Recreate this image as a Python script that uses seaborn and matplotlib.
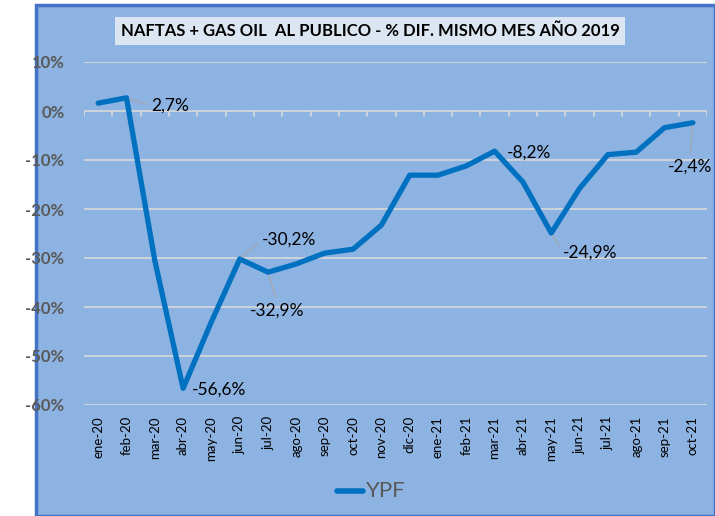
import matplotlib
matplotlib.use("Agg")
import matplotlib.pyplot as plt
from matplotlib.patches import Rectangle
import seaborn as sns
import pandas as pd

months = ["ene-20", "feb-20", "mar-20", "abr-20", "may-20", "jun-20", "jul-20",
          "ago-20", "sep-20", "oct-20", "nov-20", "dic-20", "ene-21", "feb-21",
          "mar-21", "abr-21", "may-21", "jun-21", "jul-21", "ago-21", "sep-21", "oct-21"]
ypf = [1.6, 2.7, -30.5, -56.6, -43.0, -30.2, -32.9, -31.2, -29.0, -28.2, -23.3,
       -13.1, -13.1, -11.2, -8.2, -14.5, -24.9, -15.8, -8.9, -8.4, -3.4, -2.4]
yticks = [10, 0, -10, -20, -30, -40, -50, -60]
title = "NAFTAS + GAS OIL  AL PUBLICO - % DIF. MISMO MES AÑO 2019"
series_name = "YPF"
# labelled points: index, text, offset (pixels), leader attach point (None = no leader)
labels = [(1, "2,7%", (25, -8), (0, 0.5)),
          (3, "-56,6%", (9, -1), None),
          (5, "-30,2%", (22, 19), (0, 0.5)),
          (6, "-32,9%", (-18, -38), (0.5, 1)),
          (14, "-8,2%", (12, -1), None),
          (16, "-24,9%", (12, -20), (0, 0.5)),
          (21, "-2,4%", (-25, -44), (0.5, 1))]

sns.set_theme(style="white")
plt.rcParams['font.family'] = ['Lato', 'DejaVu Sans']

BG = "#8DB3E2"
W, H = 715, 516
fig = plt.figure(figsize=(W / 100, H / 100), dpi=100, facecolor="white")
fig.patches.append(Rectangle((36 / W, 0), 1 - 36 / W, 1 - 5 / H, transform=fig.transFigure,
                             facecolor=BG, edgecolor="#4472C4", linewidth=2.5, zorder=-10))

ax = fig.add_axes([84 / W, 1 - 405 / H, (707 - 84) / W, (405 - 62) / H])
ax.set_facecolor(BG)
ax.patch.set_alpha(0)

df = pd.DataFrame({"x": range(len(months)), "v": ypf, "s": series_name})
sns.lineplot(data=df, x="x", y="v", hue="s", palette=["#0070C0"], linewidth=3.8,
             ax=ax, legend=False, solid_capstyle="round")

ax.set_xlim(-0.5, len(months) - 0.5)
ax.set_ylim(-60, 10)
ax.set_yticks(yticks)
ax.set_yticklabels([f"{t}%" for t in yticks], fontsize=12, fontweight="bold", color="#595959")
ax.set_xticks(range(len(months)))
ax.set_xticklabels(months, rotation=90, fontsize=9.5, color="black")
ax.tick_params(axis="both", length=0, pad=8)
ax.tick_params(axis="y", pad=14)
ax.set_xlabel("")
ax.set_ylabel("")
for s in ax.spines.values():
    s.set_visible(False)
for t in yticks:
    if t != 0:
        ax.axhline(t, color="#D9D9D9", lw=1.2, zorder=0)
ax.axhline(0, color="#D9D9D9", lw=1.2, zorder=1)
for i in range(len(months) + 1):
    ax.plot([i - 0.5, i - 0.5], [0, -1.0], color="#D9D9D9", lw=1.2, zorder=1)

for idx, txt, off, rel in labels:
    kw = {}
    if rel is not None:
        kw["arrowprops"] = dict(arrowstyle="-", color="#A6A6A6", lw=0.8, shrinkA=1, shrinkB=2,
                                relpos=rel)
    ax.annotate(txt, xy=(idx, ypf[idx]), xytext=off, textcoords="offset pixels",
                ha="left", va="center", fontsize=12.5, color="black", **kw)

# title with box
fig.text(370 / W, 1 - 31 / H, title, ha="center", va="center", fontsize=12, fontweight="bold",
         color="black",
         bbox=dict(boxstyle="square,pad=0.35", facecolor="#DCE6F2", edgecolor="none"))

# legend
fig.lines.append(plt.Line2D([337 / W, 363 / W], [1 - 491 / H, 1 - 491 / H], transform=fig.transFigure,
                            color="#0070C0", lw=4, solid_capstyle="round"))
fig.text(366 / W, 1 - 491 / H, series_name, ha="left", va="center", fontsize=16, color="#595959")

fig.savefig("out.png", dpi=100, facecolor="white")
